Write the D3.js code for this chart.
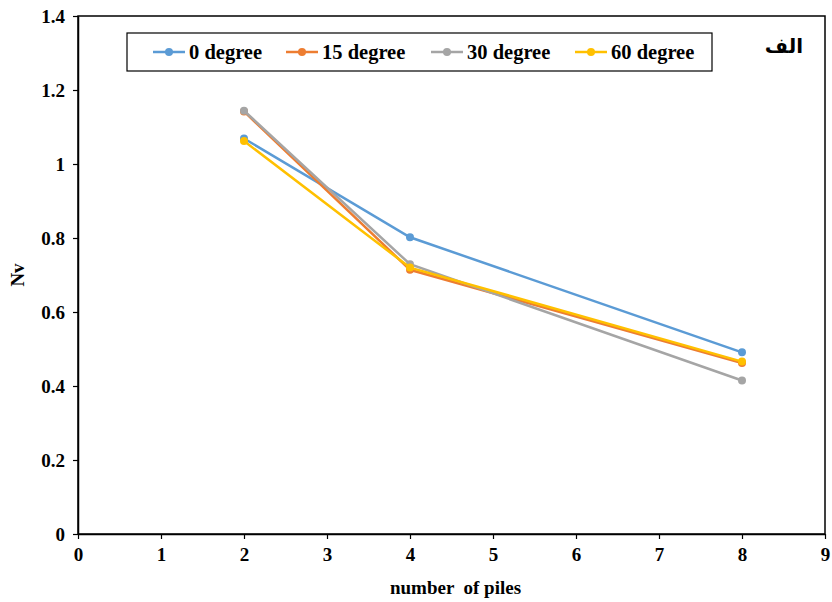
<!DOCTYPE html>
<html>
<head>
<meta charset="utf-8">
<script src="https://cdn.jsdelivr.net/npm/d3@7"></script>
<style>
  body { margin: 0; background: #fff; }
  text { font-family: "Liberation Serif", "Times New Roman", serif; font-weight: bold; fill: #000; }
</style>
</head>
<body>
<div id="chart"></div>
<script>
// data
const piles = [2, 4, 8];
const seriesNames = ["0 degree", "15 degree", "30 degree", "60 degree"];
const colors = ["#5B9BD5", "#ED7D31", "#A5A5A5", "#FFC000"];
const nv0 = [1.069, 0.802, 0.491];
const nv15 = [1.142, 0.714, 0.462];
const nv30 = [1.144, 0.729, 0.415];
const nv60 = [1.062, 0.72, 0.466];
const xTicks = [0, 1, 2, 3, 4, 5, 6, 7, 8, 9];
const yTicks = [0, 0.2, 0.4, 0.6, 0.8, 1, 1.2, 1.4];

const width = 832, height = 602;
const margin = { top: 16, right: 7, bottom: 68, left: 78 };

const svg = d3.select("#chart").append("svg")
  .attr("width", width)
  .attr("height", height);

const x = d3.scaleLinear().domain([0, 9]).range([margin.left, width - margin.right]);
const y = d3.scaleLinear().domain([0, 1.4]).range([height - margin.bottom, margin.top]);

// plot frame
svg.append("rect")
  .attr("x", x(0)).attr("y", y(1.4))
  .attr("width", x(9) - x(0)).attr("height", y(0) - y(1.4))
  .attr("fill", "none").attr("stroke", "#000").attr("stroke-width", 1.5);

// axes
const xAxis = svg.append("g")
  .attr("transform", "translate(0," + y(0) + ")")
  .call(d3.axisBottom(x).tickValues(xTicks).tickFormat(d3.format("d")).tickSize(5).tickSizeOuter(0).tickPadding(9));
const yAxis = svg.append("g")
  .attr("transform", "translate(" + x(0) + ",0)")
  .call(d3.axisLeft(y).tickValues(yTicks).tickFormat(d => d).tickSize(5).tickSizeOuter(0).tickPadding(8));

[xAxis, yAxis].forEach(g => {
  g.select(".domain").attr("stroke", "#000").attr("stroke-width", 1.5);
  g.selectAll(".tick line").attr("stroke", "#000").attr("stroke-width", 1.2);
  g.selectAll("text").style("font-family", "Liberation Serif, serif")
    .style("font-weight", "bold").style("font-size", "19px").attr("fill", "#000");
});

// axis titles
svg.append("text")
  .attr("x", (x(0) + x(9)) / 2 + 4).attr("y", 594)
  .attr("text-anchor", "middle").style("font-size", "19px")
  .style("white-space", "pre")
  .text("number  of piles");
svg.append("text")
  .attr("transform", "translate(24," + (y(0.7)) + ") rotate(-90)")
  .attr("text-anchor", "middle").style("font-size", "19px")
  .text("Nv");

// series
const allSeries = [nv0, nv15, nv30, nv60];
const line = d3.line().x((d, i) => x(piles[i])).y(d => y(d));

allSeries.forEach((vals, s) => {
  svg.append("path")
    .datum(vals)
    .attr("d", line)
    .attr("fill", "none")
    .attr("stroke", colors[s])
    .attr("stroke-width", 2.5);
  svg.selectAll(".pt" + s)
    .data(vals)
    .enter()
    .append("circle")
    .attr("cx", (d, i) => x(piles[i]))
    .attr("cy", d => y(d))
    .attr("r", 4)
    .attr("fill", colors[s]);
});

// legend
svg.append("rect")
  .attr("x", 127).attr("y", 33).attr("width", 585).attr("height", 38)
  .attr("fill", "#fff").attr("stroke", "#000").attr("stroke-width", 1.2);
const legendX = [153, 286, 431, 575];
seriesNames.forEach((name, s) => {
  const g = svg.append("g").attr("transform", "translate(" + legendX[s] + ",52)");
  g.append("line").attr("x1", 0).attr("x2", 32).attr("y1", 0).attr("y2", 0)
    .attr("stroke", colors[s]).attr("stroke-width", 2.5);
  g.append("circle").attr("cx", 16).attr("cy", 0).attr("r", 4).attr("fill", colors[s]);
  g.append("text").attr("x", 36).attr("y", 7).style("font-size", "20.5px").text(name);
});

// panel label
svg.append("text")
  .attr("x", 803).attr("y", 53)
  .attr("text-anchor", "end")
  .style("font-family", "DejaVu Sans, sans-serif")
  .style("font-size", "20px")
  .text("الف");
</script>
</body>
</html>
